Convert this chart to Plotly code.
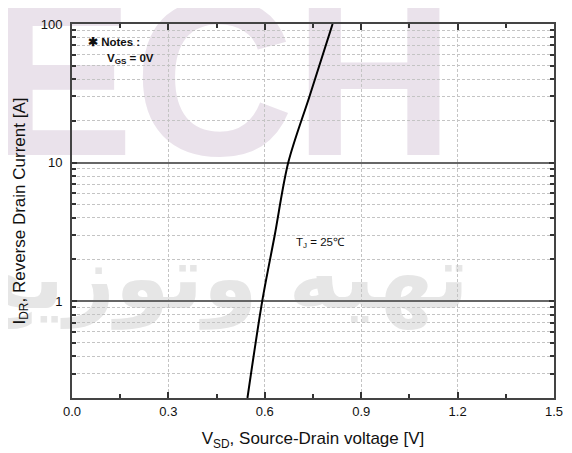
import plotly.graph_objects as go
import math

# ---- data ----
v_sd = [0.546, 0.592, 0.631, 0.673, 0.739, 0.811]
i_dr = [0.2, 1.0, 3.0, 10.0, 30.0, 100.0]

x_ticks = [0.0, 0.3, 0.6, 0.9, 1.2, 1.5]
x_minor = [0.15, 0.45, 0.75, 1.05, 1.35]
y_ticks = [1, 10, 100]
y_minor = [m * d for d in (0.1, 1, 10) for m in range(2, 10) if 0.2 <= m * d < 100]

FONT = "Liberation Sans, Arial, sans-serif"

fig = go.Figure()
fig.add_trace(go.Scatter(x=v_sd, y=i_dr, mode="lines",
                         line=dict(color="black", width=2, shape="spline", smoothing=0.9),
                         showlegend=False, hoverinfo="skip"))

# the page adds an 8 px body margin, so the figure is 8 px smaller and margins shifted
fig.update_layout(
    width=564, height=445,
    margin=dict(l=64, r=18, t=16, b=55),
    paper_bgcolor="white", plot_bgcolor="rgba(0,0,0,0)",
    font=dict(family=FONT, size=13, color="#111"),
    showlegend=False,
)

fig.update_xaxes(
    range=[0, 1.5], tickvals=x_ticks, ticktext=[f"{t:.1f}" for t in x_ticks],
    ticks="inside", ticklen=6, tickwidth=1.5, tickcolor="#333",
    showline=True, linecolor="#444", linewidth=2, mirror="ticks",
    showgrid=True, gridcolor="#c4c4c4", gridwidth=1, griddash="3px,2px",
    zeroline=False, automargin=False,
    minor=dict(tickvals=x_minor, ticks="inside", ticklen=4,
               tickwidth=1.5, tickcolor="#333", showgrid=False),
    title=dict(text="V<sub>SD</sub>, Source-Drain voltage [V]",
               font=dict(family=FONT, size=17, color="#111"), standoff=15),
    tickfont=dict(family=FONT, size=13, color="#111"),
)

fig.update_yaxes(
    type="log", range=[math.log10(0.2), 2], tickvals=y_ticks,
    ticktext=[str(t) for t in y_ticks],
    ticks="inside", ticklen=5, tickwidth=1.5, tickcolor="#333",
    showline=True, linecolor="#444", linewidth=2, mirror="ticks",
    showgrid=True, gridcolor="#666", gridwidth=1.5,
    zeroline=False, automargin=False, ticklabelstandoff=5,
    minor=dict(tickvals=y_minor, ticks="inside", ticklen=4, tickwidth=1.5,
               tickcolor="#333", showgrid=True, gridcolor="#c4c4c4",
               gridwidth=1, griddash="3px,2px"),
    title=dict(text="I<sub>DR</sub>, Reverse Drain Current [A]",
               font=dict(family=FONT, size=17, color="#111"), standoff=11),
    tickfont=dict(family=FONT, size=13, color="#111"),
)

# ---- faint watermark behind the grid ----
fig.add_shape(type="rect", xref="paper", yref="paper",
              x0=-0.4, x1=1.014, y0=0.54, y1=1.284, layer="below",
              line=dict(width=0), fillcolor="rgba(0,0,0,0)",
              label=dict(text="<b>ECH</b>", textposition="middle center",
                         font=dict(family=FONT, size=222, color="#EAE2EB")))
fig.add_shape(type="rect", xref="paper", yref="paper",
              x0=-0.4, x1=1.014, y0=0.0, y1=0.674, layer="below",
              line=dict(width=0), fillcolor="rgba(0,0,0,0)",
              label=dict(text="<b>تهیه وتوزیع</b>", textposition="middle center",
                         font=dict(family="DejaVu Sans", size=88, color="#E6E6E6")))

# ---- annotations ----
fig.add_annotation(xref="paper", yref="paper", x=0.029, y=0.952,
                   xanchor="left", yanchor="middle", showarrow=False,
                   text="<b>✱ Notes :</b>", font=dict(family=FONT, size=11.5, color="#111"))
fig.add_annotation(xref="paper", yref="paper", x=0.069, y=0.906,
                   xanchor="left", yanchor="middle", showarrow=False,
                   text="<b>V<sub>GS</sub> = 0V</b>", font=dict(family=FONT, size=11.5, color="#111"))
fig.add_annotation(xref="paper", yref="paper", x=0.461, y=0.414,
                   xanchor="left", yanchor="middle", showarrow=False,
                   text="T<sub>J</sub> = 25℃", font=dict(family=FONT, size=11.5, color="#111"))

fig.write_html("out.html")
